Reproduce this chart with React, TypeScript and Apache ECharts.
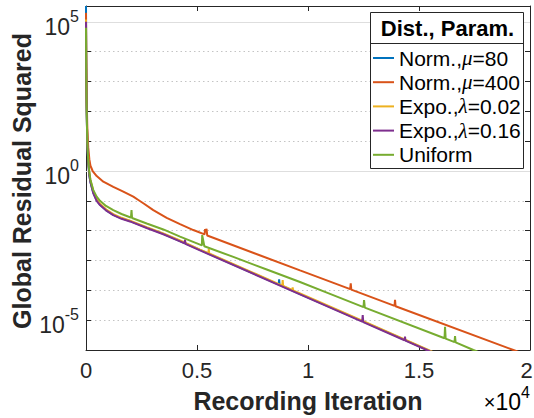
import React, { useEffect, useRef } from 'react';
import * as echarts from 'echarts';

const FONT = "'Liberation Sans', Arial, Helvetica, sans-serif";
const AXIS_COLOR = '#262626';

// series names (legend), colours (MATLAB default order)
const seriesNames = ['Norm.,μ=80', 'Norm.,μ=400', 'Expo.,λ=0.02', 'Expo.,λ=0.16', 'Uniform'];
const seriesColors = ['#0072BD', '#D95319', '#EDB120', '#7E2F8E', '#77AC30'];
const legendRich: Record<string, string> = {
  'Norm.,μ=80': '{n|Norm.,}{g|μ}{n|=80}',
  'Norm.,μ=400': '{n|Norm.,}{g|μ}{n|=400}',
  'Expo.,λ=0.02': '{n|Expo.,}{g|λ}{n|=0.02}',
  'Expo.,λ=0.16': '{n|Expo.,}{g|λ}{n|=0.16}',
  Uniform: '{n|Uniform}',
};

// axes
const xMin = 0;
const xMax = 20000;
const xInterval = 5000;
const xScaleDivisor = 10000; // labels shown in units of 10^4
const xExponent = 4;
const yMin = 1e-6;
const yMax = 3.4e5;
const yMajorExponents = [5, 0, -5];

// [recording iteration, global residual squared]
const normMu80: [number, number][] = [
  [0, 3.4e5], [10, 5.0e3], [30, 1.1e2], [60, 8.5], [100, 2.1], [150, 0.72], [200, 0.43],
  [330, 0.185], [480, 0.103], [630, 0.074], [900, 0.049], [1230, 0.034], [1600, 0.0258],
  [1982, 0.021], [2734, 0.0127], [3483, 0.0078], [4235, 0.0045], [5135, 0.00226],
  [8680, 1.56e-4], [8700, 2.34e-4], [8720, 1.54e-4], [9640, 7.45e-5], [12493, 8.9e-6],
  [15350, 1.03e-6], [16300, 5.0e-7],
];
const normMu400: [number, number][] = [
  [0, 2.0e5], [10, 1.0e4], [30, 3.2e2], [60, 25], [100, 6.3], [150, 2.5], [200, 1.5],
  [300, 1.0], [482, 0.68], [780, 0.44], [1230, 0.295], [1680, 0.204], [2131, 0.138],
  [2357, 0.107], [2582, 0.083], [3032, 0.049], [3635, 0.027], [4235, 0.0166], [4834, 0.0105],
  [5340, 0.0075], [5365, 0.0112], [5390, 0.0088], [5430, 0.0115], [5460, 0.0069],
  [9640, 4.68e-4], [11900, 1.1e-4], [11925, 1.72e-4], [11950, 1.06e-4],
  [13900, 3.0e-5], [13920, 4.8e-5], [13945, 2.93e-5], [19250, 1.0e-6], [20000, 6.2e-7],
];
const expoLambda002: [number, number][] = [
  [0, 1.2e5], [10, 4.0e3], [30, 1.5e2], [60, 11], [100, 2.6], [150, 0.85], [200, 0.5],
  [330, 0.21], [480, 0.115], [630, 0.08], [900, 0.052], [1230, 0.036], [1600, 0.027],
  [1982, 0.0218], [2734, 0.0131], [3483, 0.0081], [4235, 0.0047], [5135, 0.00233],
  [5510, 0.00177], [5530, 0.0024], [5550, 0.00172], [8840, 1.44e-4], [8860, 2.19e-4],
  [8880, 1.4e-4], [9290, 1.03e-4], [9310, 1.26e-4], [9330, 1.0e-4], [9640, 7.9e-5],
  [12493, 9.2e-6], [15420, 1.0e-6], [16300, 5.1e-7],
];
const expoLambda016: [number, number][] = [
  [0, 1.0e5], [10, 3.0e3], [30, 1.0e2], [60, 8.0], [100, 2.0], [150, 0.7], [200, 0.42],
  [330, 0.18], [480, 0.1], [630, 0.072], [900, 0.048], [1230, 0.033], [1600, 0.025],
  [1982, 0.0204], [2734, 0.0123], [3483, 0.0076], [4235, 0.0044], [4440, 0.00373],
  [4460, 0.005], [4480, 0.00361], [5135, 0.00219], [9640, 7.36e-5], [12440, 8.9e-6],
  [12465, 1.48e-5], [12490, 8.6e-6], [14350, 2.12e-6], [14370, 2.8e-6], [14390, 2.06e-6],
  [15350, 1.0e-6], [16300, 4.9e-7],
];
const uniform: [number, number][] = [
  [0, 6.3e4], [10, 2.0e3], [30, 1.0e2], [60, 8.0], [100, 2.2], [150, 0.89], [200, 0.5],
  [330, 0.229], [480, 0.138], [630, 0.1], [900, 0.0676], [1230, 0.049], [1600, 0.0363],
  [1982, 0.0282], [2025, 0.0273], [2050, 0.049], [2075, 0.0267], [2734, 0.0174],
  [3483, 0.011], [4235, 0.0063], [5220, 0.0032], [5235, 0.0071], [5330, 0.003],
  [6637, 0.00132], [8140, 5.0e-4], [9640, 1.9e-4], [10992, 7.6e-5], [12500, 2.74e-5],
  [12525, 4.68e-5], [12560, 2.63e-5], [16150, 2.47e-6], [16173, 6.0e-6], [16200, 2.4e-6],
  [16600, 1.84e-6], [16623, 2.9e-6], [16650, 1.8e-6], [17450, 1.0e-6], [18400, 5.2e-7],
];
const seriesData = [normMu80, normMu400, expoLambda002, expoLambda016, uniform];

const supRich = {
  b: { fontSize: 23, lineHeight: 23, fontFamily: FONT, color: AXIS_COLOR },
  s: { fontSize: 16, height: 2, lineHeight: 2, verticalAlign: 'top', fontFamily: FONT, color: AXIS_COLOR },
};
const multiplierRich = {
  b: { fontSize: 23, lineHeight: 23, fontFamily: FONT, color: AXIS_COLOR },
  s: { fontSize: 16, height: 5, lineHeight: 5, verticalAlign: 'top', fontFamily: FONT, color: AXIS_COLOR },
  x: { fontSize: 20, lineHeight: 23, fontFamily: FONT, color: AXIS_COLOR },
};

function buildOption(): any {
  const series: any[] = seriesData.map((d, i) => ({
    name: seriesNames[i],
    type: 'line',
    data: d,
    showSymbol: false,
    symbol: 'none',
    clip: true,
    xAxisIndex: 0,
    yAxisIndex: 0,
    lineStyle: { width: 2, color: seriesColors[i] },
    itemStyle: { color: seriesColors[i] },
    emphasis: { disabled: true },
  }));
  series[0].markLine = {
    silent: true,
    symbol: ['none', 'none'],
    z: 1,
    label: { show: false },
    lineStyle: { type: 'solid', color: '#dedede', width: 1 },
    emphasis: { disabled: true },
    data: yMajorExponents.map((e) => ({ yAxis: Math.pow(10, e) })),
  };

  const yLabelFormatter = (v: number) => {
    const e = Math.log10(v);
    const r = Math.round(e);
    if (Math.abs(e - r) > 1e-6 || yMajorExponents.indexOf(r) < 0) return '';
    return `{b|10}{s|${r}}`;
  };

  return {
    animation: false,
    color: seriesColors,
    grid: { left: 86, right: 4, top: 6, bottom: 68, containLabel: false, outerBoundsMode: 'none' },
    xAxis: [
      {
        type: 'value', position: 'bottom', min: xMin, max: xMax, interval: xInterval,
        axisLine: { show: true, onZero: false, lineStyle: { color: AXIS_COLOR, width: 1 } },
        axisTick: { show: true, inside: true, length: 5, lineStyle: { color: AXIS_COLOR } },
        axisLabel: {
          margin: 9, fontSize: 22, fontFamily: FONT, color: AXIS_COLOR,
          formatter: (v: number) =>
            v === xMax ? `{r|${v / xScaleDivisor}}` : String(v / xScaleDivisor),
          rich: { r: { fontSize: 22, fontFamily: FONT, color: AXIS_COLOR, padding: [0, 7, 0, 0] } },
        },
        splitLine: { show: false },
      },
      {
        type: 'value', position: 'top', min: xMin, max: xMax, interval: xInterval,
        axisLine: { show: true, onZero: false, lineStyle: { color: AXIS_COLOR, width: 1 } },
        axisTick: { show: true, inside: true, length: 5, lineStyle: { color: AXIS_COLOR } },
        axisLabel: { show: false },
        splitLine: { show: false },
      },
    ],
    yAxis: [
      {
        type: 'log', logBase: 10, position: 'left', min: yMin, max: yMax, interval: 1,
        axisLine: { show: true, onZero: false, lineStyle: { color: AXIS_COLOR, width: 1 } },
        axisTick: { show: true, inside: true, length: 5, lineStyle: { color: AXIS_COLOR } },
        axisLabel: {
          margin: 7, padding: [10, 0, 0, 0], formatter: yLabelFormatter, rich: supRich,
          showMaxLabel: false,
        },
        splitLine: { show: true, lineStyle: { type: [1.5, 3], color: '#c4c4c4', width: 1 } },
      },
      {
        type: 'log', logBase: 10, position: 'right', min: yMin, max: yMax, interval: 1,
        axisLine: { show: true, onZero: false, lineStyle: { color: AXIS_COLOR, width: 1 } },
        axisTick: { show: true, inside: true, length: 5, lineStyle: { color: AXIS_COLOR } },
        axisLabel: { show: false },
        splitLine: { show: false },
      },
    ],
    legend: {
      show: true,
      orient: 'vertical',
      left: 373,
      top: 47.5,
      padding: 0,
      itemWidth: 21,
      itemHeight: 2,
      itemGap: 3.2,
      icon: 'rect',
      selectedMode: false,
      z: 10,
      data: seriesNames,
      formatter: (name: string) => legendRich[name] || name,
      textStyle: {
        fontSize: 21, fontFamily: FONT, color: '#000',
        rich: {
          n: { fontSize: 21, lineHeight: 21, fontFamily: FONT, color: '#000' },
          g: { fontSize: 21, lineHeight: 21, fontFamily: "'Liberation Serif', 'DejaVu Serif', serif", fontStyle: 'italic', color: '#000' },
        },
      },
    },
    graphic: [
      {
        type: 'rect', z: 5, silent: true,
        shape: { x: 370.5, y: 12.5, width: 153, height: 156 },
        style: { fill: '#ffffff', stroke: AXIS_COLOR, lineWidth: 1 },
      },
      {
        type: 'line', z: 6, silent: true,
        shape: { x1: 370.5, y1: 43.5, x2: 523.5, y2: 43.5 },
        style: { stroke: AXIS_COLOR, lineWidth: 1 },
      },
      {
        type: 'text', z: 6, silent: true, x: 447.5, y: 28,
        style: {
          text: 'Dist., Param.', fontSize: 22, fontWeight: 'bold', fontFamily: FONT,
          fill: '#000', align: 'center', verticalAlign: 'middle',
        },
      },
      {
        type: 'text', z: 6, silent: true, x: 308, y: 400.5,
        style: {
          text: 'Recording Iteration', fontSize: 25, fontWeight: 'bold', fontFamily: FONT,
          fill: AXIS_COLOR, align: 'center', verticalAlign: 'middle',
        },
      },
      {
        type: 'text', z: 6, silent: true, x: 22, y: 181, rotation: Math.PI / 2,
        style: {
          text: 'Global Residual Squared', fontSize: 25, fontWeight: 'bold', fontFamily: FONT,
          fill: AXIS_COLOR, align: 'center', verticalAlign: 'middle',
        },
      },
      {
        type: 'text', z: 6, silent: true, x: 530, y: 401.5,
        style: {
          text: `{x|×}{b|10}{s|${xExponent}}`, rich: multiplierRich,
          align: 'right', verticalAlign: 'middle',
        },
      },
    ],
    series,
  };
}

export default function App() {
  const ref = useRef<HTMLDivElement>(null);
  useEffect(() => {
    if (!ref.current) return;
    const chart = echarts.init(ref.current, null, { renderer: 'svg' });
    chart.setOption(buildOption());
    return () => chart.dispose();
  }, []);
  return (
    <div
      ref={ref}
      style={{ position: 'fixed', left: 0, top: 0, width: 534, height: 418, background: '#fff' }}
    />
  );
}
